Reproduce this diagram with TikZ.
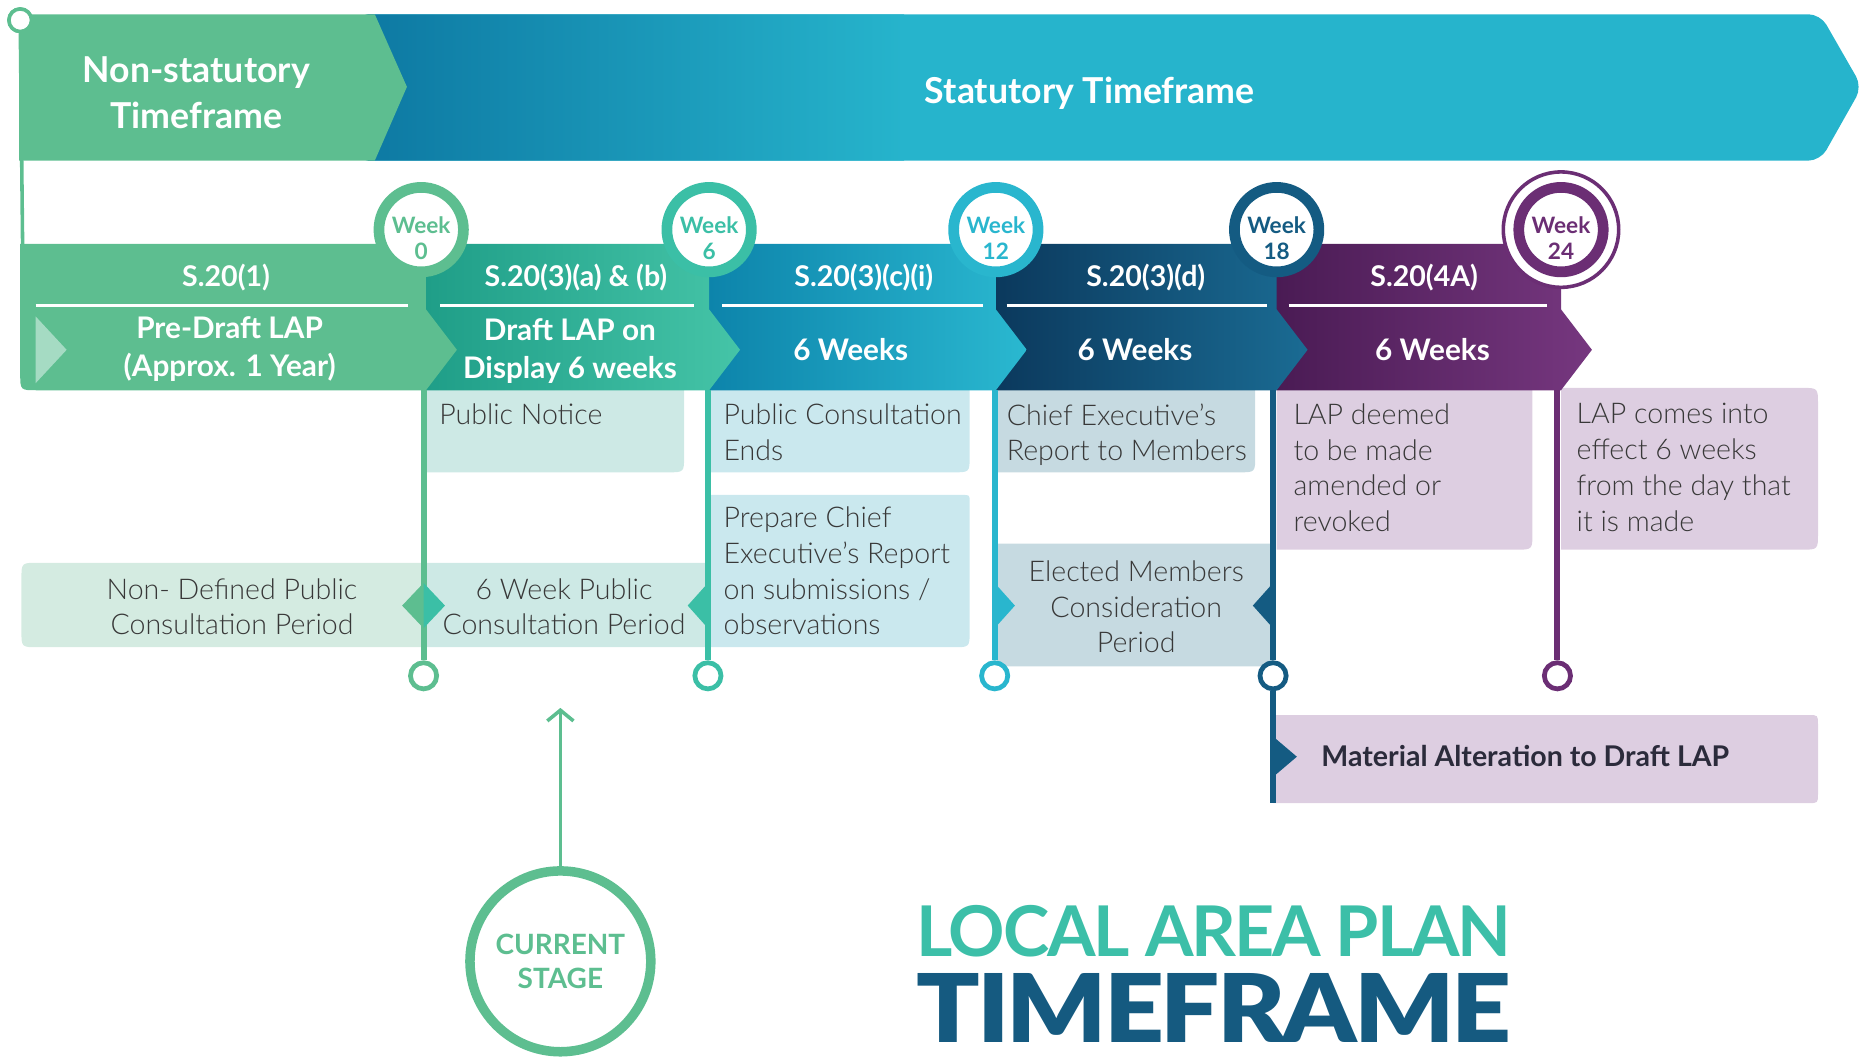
\documentclass[tikz,border=0pt]{standalone}
\usepackage{fontspec}
\usepackage{graphicx}
\setmainfont{Lato}
\IfFontExistsTF{Lato Light}{\newfontfamily\lightfont[Ligatures=TeX]{Lato Light}}{\newfontfamily\lightfont[Ligatures=TeX]{Lato}}
\IfFontExistsTF{Lato Black}{\newfontfamily\blackfont[LetterSpace=-3]{Lato Black}}{\newfontfamily\blackfont[LetterSpace=-3]{Lato}[UprightFont=*-Bold]}
\newfontfamily\titlefont[LetterSpace=-3]{Lato}
\usetikzlibrary{arrows.meta}
\definecolor{cgreen}{HTML}{5DBE90}
\definecolor{cgreenpale}{HTML}{A5DBC3}
\definecolor{ctg}{HTML}{3BBFA6}
\definecolor{ctgD}{HTML}{1F9E88}
\definecolor{ctgL}{HTML}{45C4A7}
\definecolor{cblue}{HTML}{29B6CE}
\definecolor{cblueD}{HTML}{0D84AB}
\definecolor{cblueL}{HTML}{2AB8D0}
\definecolor{cdb}{HTML}{145B82}
\definecolor{cdbD}{HTML}{0B395D}
\definecolor{cdbL}{HTML}{1A6B93}
\definecolor{cpur}{HTML}{6B2E74}
\definecolor{cpurD}{HTML}{4A1B54}
\definecolor{cpurL}{HTML}{76377F}
\definecolor{cbanner}{HTML}{26B4CC}
\definecolor{cbannerD}{HTML}{0D78A2}
\definecolor{cboxgreen}{HTML}{D4EBE1}
\definecolor{cboxmint}{HTML}{CDE9E5}
\definecolor{cboxblue}{HTML}{CAE8EE}
\definecolor{cboxgray}{HTML}{C6DAE1}
\definecolor{cboxlilac}{HTML}{DDCEE1}
\definecolor{ctext}{HTML}{383838}
\definecolor{cmat}{HTML}{2B2B3B}
\definecolor{ctitleA}{HTML}{3CBFA8}
\definecolor{ctitleB}{HTML}{155A80}
% #1 colour, #2 x1, #3 y1, #4 x2, #5 y2, radii: #6 tl, #7 tr, #8 br, #9 bl
\newcommand\lapbox[9]{%
  \fill[#1] (#2+#6,#3) -- (#4-#7,#3) .. controls (#4,#3) .. (#4,#3+#7)
   -- (#4,#5-#8) .. controls (#4,#5) .. (#4-#8,#5)
   -- (#2+#9,#5) .. controls (#2,#5) .. (#2,#5-#9)
   -- (#2,#3+#6) .. controls (#2,#3) .. (#2+#6,#3) -- cycle;}
\tikzset{
  bigwhite/.style={text=white, font=\fontsize{30}{39}\selectfont\bfseries, align=center, inner sep=0},
  bandtitle/.style={text=white, font=\fontsize{24}{28}\selectfont\bfseries, inner sep=0},
  bandmain/.style={text=white, font=\fontsize{25}{32}\selectfont\bfseries, align=center, inner sep=0},
  boxtext/.style={text=ctext, font=\lightfont\fontsize{24}{30}\selectfont, align=left, anchor=north west, inner sep=0},
  boxctext/.style={text=ctext, font=\lightfont\fontsize{24}{30}\selectfont, align=center, inner sep=0},
  weekring/.style={circle, draw=#1, line width=9pt, fill=white, minimum size=71pt, inner sep=0},
  weektext/.style={text=#1, font=\fontsize{19}{22}\selectfont\bfseries, align=center, inner sep=0},
  endring/.style={circle, draw=#1, line width=4pt, fill=white, minimum size=22pt, inner sep=0},
  vline/.style={draw=#1, line width=5pt},
  sepline/.style={draw=white, line width=2.5pt},
}
\begin{document}
\begin{tikzpicture}[x=1pt,y=-1pt]
\useasboundingbox (0,0) rectangle (1565,888.4);

% ---------- info boxes ----------
\lapbox{cboxmint}{358}{318}{575}{397}{0}{0}{14}{0}
\lapbox{cboxblue}{597}{318}{815}{397}{0}{0}{14}{0}
\lapbox{cboxgray}{838}{318}{1055}{397}{0}{0}{14}{0}
\lapbox{cboxlilac}{1073}{318}{1288}{462}{0}{0}{14}{0}
\lapbox{cboxlilac}{1312}{326}{1528}{462}{0}{14}{14}{0}
\lapbox{cboxblue}{597}{416}{815}{544}{0}{6}{14}{0}
\lapbox{cboxgreen}{18}{473}{356}{544}{14}{0}{0}{14}
\lapbox{cboxmint}{356}{473}{595}{544}{0}{0}{0}{0}
\lapbox{cboxgray}{838}{457}{1070}{560}{0}{0}{0}{0}
\lapbox{cboxlilac}{1070}{601}{1528}{675}{0}{8}{8}{0}

% ---------- top banner ----------
\node[circle, draw=cgreen, line width=3pt, fill=white, minimum size=19pt, inner sep=0] (start) at (17,17) {};
\coordinate (lt) at (19,206);
\draw[cgreen, line width=3pt] (start) -- (lt);
\begin{scope}
  \clip[rounded corners=10pt] (300,12) -- (1530,12) -- (1565,73) -- (1530,135) -- (300,135) -- cycle;
  \fill[cbanner] (300,0) rectangle (1570,140);
  \shade[left color=cbannerD, right color=cbanner] (300,0) rectangle (760,140);
\end{scope}
\fill[cgreen] (16,12) -- (315,12) -- (342,73) -- (315,135) -- (16,135) -- cycle;
\node[circle, draw=cgreen, line width=3pt, fill=white, minimum size=19pt, inner sep=0] (startb) at (17,17) {};
\node[bigwhite] (nonstat) at (165,78) {Non-statutory\\Timeframe};
\node[bigwhite] (stat) at (916,78) {Statutory Timeframe};

% ---------- band segments ----------
\shade[left color=cpurD, right color=cpurL] (1073,205) -- (1312,205) -- (1312,260) -- (1338,294) -- (1312,328) -- (1073,328) -- cycle;
\shade[left color=cdbD, right color=cdbL] (837,205) -- (1073,205) -- (1073,260) -- (1099,294) -- (1073,328) -- (837,328) -- cycle;
\shade[left color=cblueD, right color=cblueL] (596,205) -- (837,205) -- (837,260) -- (863,294) -- (837,328) -- (596,328) -- cycle;
\shade[left color=ctgD, right color=ctgL] (358,205) -- (596,205) -- (596,260) -- (622,294) -- (596,328) -- (358,328) -- cycle;
\fill[cgreen] (17,205) -- (358,205) -- (358,260) -- (384,294) -- (358,328) -- (31,328) .. controls (17,328) .. (17,314) -- cycle;
\fill[cgreenpale] (30,266) -- (56,294) -- (30,322) -- cycle;

\draw[sepline] (30,257) -- (343,257);
\draw[sepline] (370,257) -- (583,257);
\draw[sepline] (607,257) -- (826,257);
\draw[sepline] (846,257) -- (1065,257);
\draw[sepline] (1083,257) -- (1300,257);

\node[bandtitle] (s1) at (190,233) {S.20(1)};
\node[bandtitle] (s2) at (484,233) {S.20(3)(a) \& (b)};
\node[bandtitle] (s3) at (726,233) {S.20(3)(c)(i)};
\node[bandtitle] (s4) at (963,233) {S.20(3)(d)};
\node[bandtitle] (s5) at (1197,233) {S.20(4A)};

\node[bandmain] (m1) at (193,293) {Pre-Draft LAP\\(Approx. 1 Year)};
\node[bandmain] (m2) at (479,295) {Draft LAP on\\Display 6 weeks};
\node[bandmain] (m3) at (715,294) {6 Weeks};
\node[bandmain] (m4) at (954,294) {6 Weeks};
\node[bandmain] (m5) at (1204,294) {6 Weeks};

% ---------- vertical timelines ----------
\node[endring=cgreen] (e0) at (356,568) {};
\node[endring=ctg] (e6) at (595,568) {};
\node[endring=cblue] (e12) at (836,568) {};
\node[endring=cdb] (e18) at (1070,568) {};
\node[endring=cpur] (e24) at (1309,568) {};
\coordinate (t0) at (356,328);
\coordinate (t6) at (595,328);
\coordinate (t12) at (836,328);
\coordinate (t18) at (1070,328);
\coordinate (t24) at (1309,328);
\coordinate (mabot) at (1070,675);
\draw[vline=cgreen] (t0) -- (e0);
\draw[vline=ctg] (t6) -- (e6);
\draw[vline=cblue] (t12) -- (e12);
\draw[vline=cdb] (t18) -- (e18);
\draw[vline=cdb] (e18) -- (mabot);
\draw[vline=cpur] (t24) -- (e24);

% markers on the timelines
\fill[cgreen] (356,490) -- (338,509) -- (356,528) -- cycle;
\fill[ctg] (356,490) -- (374,509) -- (356,528) -- cycle;
\fill[ctg] (595,490) -- (578,509) -- (595,528) -- cycle;
\fill[cblue] (836,490) -- (853,509) -- (836,528) -- cycle;
\fill[cdb] (1070,490) -- (1053,509) -- (1070,528) -- cycle;
\fill[cdb] (1070,619) -- (1090,636) -- (1070,653) -- cycle;

% ---------- week circles ----------
\node[circle, draw=cpur, line width=3pt, fill=white, minimum size=97pt, inner sep=0] (w24o) at (1312,193) {};
\node[weekring=cgreen] (w0) at (354,193) {};
\node[weekring=ctg] (w6) at (596,193) {};
\node[weekring=cblue] (w12) at (837,193) {};
\node[weekring=cdb] (w18) at (1073,193) {};
\node[weekring=cpur] (w24) at (1312,193) {};
\node[weektext=cgreen] (w0t) at (354,200) {Week\\0};
\node[weektext=ctg] (w6t) at (596,200) {Week\\6};
\node[weektext=cblue] (w12t) at (837,200) {Week\\12};
\node[weektext=cdb] (w18t) at (1073,200) {Week\\18};
\node[weektext=cpur] (w24t) at (1312,200) {Week\\24};

% ---------- box texts ----------
\node[boxtext] (b1) at (369,339) {Public Notice};
\node[boxtext] (b2) at (608,339) {Public Consultation\\Ends};
\node[boxtext] (b3) at (846,339) {Chief Executive’s\\Report to Members};
\node[boxtext] (b4) at (1087,339) {LAP deemed\\to be made\\amended or\\revoked};
\node[boxtext] (b5) at (1325,339) {LAP comes into\\effect 6 weeks\\from the day that\\it is made};
\node[boxtext] (b6) at (608,426) {Prepare Chief\\Executive’s Report\\on submissions /\\observations};
\node[boxctext] (b7) at (195,510) {Non- Defined Public\\Consultation Period};
\node[boxctext] (b8) at (474,510) {6 Week Public\\Consultation Period};
\node[boxctext] (b9) at (955,510) {Elected Members\\Consideration\\Period};
\node[text=cmat, font=\fontsize{24}{30}\selectfont\bfseries, inner sep=0] (mat) at (1282,635) {Material Alteration to Draft LAP};

% ---------- current stage ----------
\node[circle, draw=cgreen, line width=8pt, fill=white, minimum size=152pt, inner sep=0,
      text=cgreen, font=\fontsize{23.5}{29}\selectfont\bfseries, align=center] (cur) at (471,808) {CURRENT\\STAGE};
\coordinate (arrtip) at (471,595);
\draw[cgreen, line width=3pt, -{Straight Barb[length=9pt,width=22pt,line width=3pt]}] (cur) -- (arrtip);

% ---------- title ----------
\node[anchor=south west, inner sep=0, text=ctitleA] (lap) at (770,805) {\resizebox{500pt}{43pt}{\titlefont\bfseries LOCAL AREA PLAN}};
\node[anchor=south west, inner sep=0, text=ctitleB] (tf) at (770,876) {\resizebox{500pt}{58pt}{\blackfont TIMEFRAME}};
\end{tikzpicture}
\end{document}
